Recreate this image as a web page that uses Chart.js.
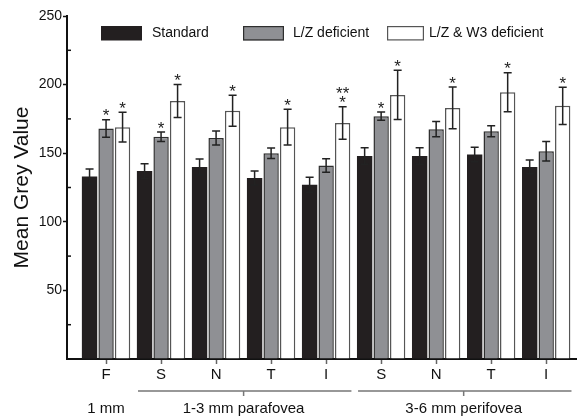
<!DOCTYPE html>
<html>
<head>
<meta charset="utf-8"/>
<style>
  html,body{margin:0;padding:0;background:#fff;}
</style>
</head>
<body>
<canvas id="c" width="577" height="420"></canvas>
<script src="https://cdn.jsdelivr.net/npm/chart.js@4.4.0/dist/chart.umd.min.js"></script>
<script>
// categories along the x axis
const categories = ["F", "S", "N", "T", "I", "S", "N", "T", "I"];

// region groups under the categories (index ranges)
const groupLabels = ["1 mm", "1-3 mm parafovea", "3-6 mm perifovea"];
const groupStart  = [0, 1, 5];
const groupEnd    = [0, 4, 8];

// mean grey values
const standard      = [133, 137, 140, 132, 127, 148, 148, 149, 140];
const standardErr   = [5.4, 5.4, 5.8, 5.1, 5.4, 6.0, 6.0, 5.3, 5.0];
const lzDef         = [168, 162, 161, 150, 141, 177, 167.5, 166, 151.5];
const lzDefErr      = [6.3, 3.4, 5.1, 3.8, 4.9, 3.0, 5.6, 4.0, 7.1];
const lzW3Def       = [169, 188, 181, 169, 172, 192.5, 183, 194.5, 184.5];
const lzW3DefErr    = [10.8, 12, 11.3, 13, 11.8, 18, 15.2, 14.2, 13.6];

// significance marks, lines top to bottom split by \n
const standardSig = ["", "", "", "", "", "", "", "", ""];
const lzDefSig    = ["*", "*", "", "", "", "*", "", "", ""];
const lzW3DefSig  = ["*", "*", "*", "*", "**\n*", "*", "*", "*", "*"];

// y axis ticks
const yMax = 250;
const yStep = 25;

const FONT = '"Liberation Sans", Arial, sans-serif';
const pts = (vals) => vals.map((v, i) => ({ x: i, y: v }));

const errorBars = {
  id: "errorBars",
  afterDatasetsDraw(chart) {
    const ctx = chart.ctx, ys = chart.scales.y;
    chart.data.datasets.forEach((ds, i) => {
      const meta = chart.getDatasetMeta(i);
      meta.data.forEach((el, j) => {
        const v = ds.data[j].y, e = ds.err[j];
        const top = ys.getPixelForValue(v + e), bot = ys.getPixelForValue(v - e);
        ctx.save();
        ctx.strokeStyle = "#222"; ctx.lineWidth = 1.5;
        ctx.beginPath();
        ctx.moveTo(el.x, top); ctx.lineTo(el.x, bot);
        ctx.moveTo(el.x - 4, top); ctx.lineTo(el.x + 4, top);
        ctx.moveTo(el.x - 4, bot); ctx.lineTo(el.x + 4, bot);
        ctx.stroke();
        const lines = ds.sig[j] ? ds.sig[j].split("\n") : [];
        ctx.fillStyle = "#222"; ctx.font = "17px " + FONT;
        ctx.textAlign = "center"; ctx.textBaseline = "alphabetic";
        lines.reverse().forEach((t, k) => ctx.fillText(t, el.x, top + 1.5 - k * 9));
        ctx.restore();
      });
    });
  }
};

const extras = {
  id: "extras",
  afterDraw(chart, args, opts) {
    const ctx = chart.ctx, xs = chart.scales.x, ys = chart.scales.y;
    const area = chart.chartArea;
    ctx.save();
    // minor inward ticks on y axis
    ctx.strokeStyle = "#111"; ctx.lineWidth = 1.5;
    for (let v = yStep; v < yMax; v += 2 * yStep) {
      const y = ys.getPixelForValue(v);
      ctx.beginPath(); ctx.moveTo(area.left, y); ctx.lineTo(area.left + 4, y); ctx.stroke();
    }
    // region groups
    ctx.font = "15px " + FONT; ctx.fillStyle = "#111";
    ctx.textAlign = "center"; ctx.textBaseline = "alphabetic";
    groupLabels.forEach((lab, g) => {
      const a = groupStart[g], b = groupEnd[g];
      const cx = xs.getPixelForValue((a + b) / 2);
      if (b > a) {
        ctx.strokeStyle = "#777"; ctx.lineWidth = 1.5;
        ctx.beginPath();
        ctx.moveTo(xs.getPixelForValue(a - 0.42), 391);
        ctx.lineTo(xs.getPixelForValue(b + 0.46), 391);
        ctx.moveTo(cx, 391); ctx.lineTo(cx, 396);
        ctx.stroke();
      }
      ctx.fillText(lab, cx, 413);
    });
    // legend inside the plot
    ctx.font = "14px " + FONT; ctx.textBaseline = "middle"; ctx.textAlign = "left";
    chart.data.datasets.forEach((ds, i) => {
      const x = opts.itemX[i], w = opts.boxW[i];
      ctx.fillStyle = ds.backgroundColor;
      ctx.fillRect(x, 26, w, 14.5);
      if (ds.borderWidth) {
        ctx.strokeStyle = ds.borderColor; ctx.lineWidth = 1.2;
        ctx.strokeRect(x + 0.6, 26.6, w - 1.2, 13.3);
      }
      ctx.fillStyle = "#111";
      ctx.fillText(ds.label, x + w + opts.gap[i], 33.5);
    });
    ctx.restore();
  }
};

new Chart(document.getElementById("c"), {
  type: "bar",
  data: {
    datasets: [
      { label: "Standard", data: pts(standard), err: standardErr, sig: standardSig,
        backgroundColor: "#231f20", borderColor: "#231f20", borderWidth: 0 },
      { label: "L/Z deficient", data: pts(lzDef), err: lzDefErr, sig: lzDefSig,
        backgroundColor: "#8f9094", borderColor: "#2e2e2e", borderWidth: 1.5 },
      { label: "L/Z & W3 deficient", data: pts(lzW3Def), err: lzW3DefErr, sig: lzW3DefSig,
        backgroundColor: "#ffffff", borderColor: "#555", borderWidth: 1.5 }
    ]
  },
  options: {
    responsive: false,
    animation: false,
    devicePixelRatio: 1,
    categoryPercentage: 0.9,
    barPercentage: 0.93,
    layout: { padding: { top: 16, right: 0, left: 0, bottom: 0 } },
    plugins: {
      legend: { display: false },
      tooltip: { enabled: false },
      extras: { itemX: [101, 243, 387], boxW: [41, 41, 37], gap: [10, 9, 5] }
    },
    scales: {
      x: {
        type: "linear",
        offset: false,
        min: -0.71, max: 8.56,
        afterBuildTicks: (s) => { s.ticks = categories.map((c, i) => ({ value: i })); },
        afterFit: (s) => { s.height = 61; },
        border: { display: true, color: "#111", width: 2 },
        grid: { display: true, offset: false, drawOnChartArea: false, drawTicks: true, tickLength: 5, tickColor: "#666", tickWidth: 1.5 },
        ticks: { color: "#111", padding: 2, maxRotation: 0, autoSkip: false,
                 font: { family: FONT, size: 15 },
                 callback: (v) => categories[v] }
      },
      y: {
        min: 0, max: yMax,
        afterFit: (s) => { s.width = 67; },
        border: { display: true, color: "#111", width: 2 },
        grid: { display: true, drawOnChartArea: false, drawTicks: true, tickLength: 4, tickWidth: 1.5,
                tickColor: (c) => (c.tick && c.tick.value % 50 === 0 && c.tick.value > 0) ? "#111" : "rgba(0,0,0,0)" },
        ticks: { stepSize: yStep, color: "#111", padding: 1,
                 font: { family: FONT, size: 14 },
                 callback: (v) => (v % 50 === 0 && v > 0) ? v : "" },
        title: { display: true, text: "Mean Grey Value", color: "#111",
                 font: { family: FONT, size: 21 }, padding: { top: 10, bottom: 0 } }
      }
    }
  },
  plugins: [errorBars, extras]
});
</script>
</body>
</html>
